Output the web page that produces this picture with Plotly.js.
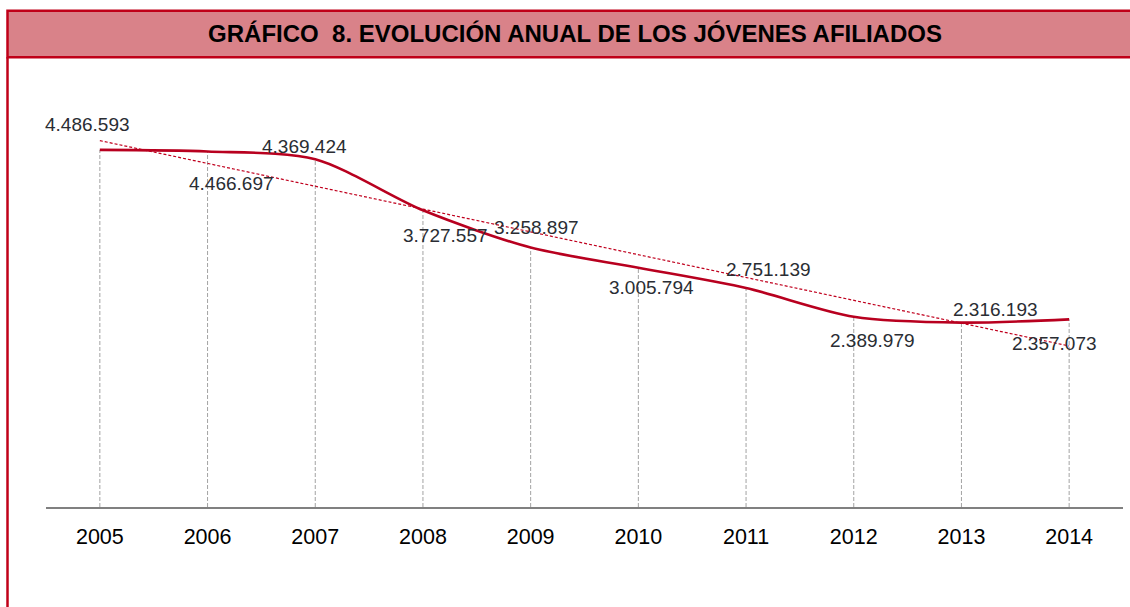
<!DOCTYPE html>
<html>
<head>
<meta charset="utf-8">
<script src="https://cdn.plot.ly/plotly-3.0.1.min.js"></script>
<style>html,body{margin:0;padding:0;background:#fff;}#chart{width:1130px;height:607px;}</style>
</head>
<body>
<div id="chart"></div>
<script>
// ---- Data ----
const years = ['2005','2006','2007','2008','2009','2010','2011','2012','2013','2014'];
const afiliados = [4486593, 4466697, 4369424, 3727557, 3258897, 3005794, 2751139, 2389979, 2316193, 2357073];
const valueLabels = ['4.486.593','4.466.697','4.369.424','3.727.557','3.258.897','3.005.794','2.751.139','2.389.979','2.316.193','2.357.073'];

// label offsets (pixels) relative to each point
const labelShiftX = [-12, 24, -11, 23, 6, 13, 22, 19, 34, -15];
const labelShiftY = [25, -32, 13, -25, 20, -20, 19, -24, 13, -24];

// ---- Linear trend line (least squares on the data) ----
const n = afiliados.length;
const idx = afiliados.map((_, i) => i);
const mx = idx.reduce((a, b) => a + b, 0) / n;
const my = afiliados.reduce((a, b) => a + b, 0) / n;
let sxy = 0, sxx = 0;
for (let i = 0; i < n; i++) { sxy += (idx[i] - mx) * (afiliados[i] - my); sxx += (idx[i] - mx) ** 2; }
const slope = sxy / sxx;
const intercept = my - slope * mx;
const trend = idx.map(i => intercept + slope * i);

// ---- Drop lines ----
const dropX = [], dropY = [];
years.forEach((y, i) => { dropX.push(y, y, null); dropY.push(0, afiliados[i], null); });

const RED = '#c0001e';
const FONT = 'Liberation Sans, Arial, sans-serif';

const traces = [
  { x: dropX, y: dropY, mode: 'lines', type: 'scatter',
    line: { color: '#a3a3a3', width: 1, dash: '4px,2px' }, hoverinfo: 'skip', showlegend: false },
  { x: years, y: trend, mode: 'lines', type: 'scatter',
    line: { color: RED, width: 1.2, dash: '3px,2px' }, hoverinfo: 'skip', showlegend: false },
  { x: years, y: afiliados, mode: 'lines', type: 'scatter',
    line: { color: '#b8001f', width: 2.6, shape: 'spline', smoothing: 0.8 }, hoverinfo: 'skip', showlegend: false }
];

const annotations = years.map((y, i) => ({
  x: i, y: afiliados[i], xref: 'x', yref: 'y', text: valueLabels[i], showarrow: false,
  xanchor: 'center', yanchor: 'middle', xshift: labelShiftX[i], yshift: labelShiftY[i],
  font: { family: FONT, size: 19, color: '#2a2d33' }
}));

// plot area: x 46..1123, y 109..507
const PL = 46, PR = 1123, PT = 109, PB = 507;
const px = v => (v - PL) / (PR - PL);
const py = v => (PB - v) / (PB - PT);

const layout = {
  width: 1130, height: 607,
  margin: { l: PL, r: 1130 - PR, t: PT, b: 607 - PB, pad: 0 },
  paper_bgcolor: '#ffffff', plot_bgcolor: '#ffffff',
  font: { family: FONT, color: '#000' },
  showlegend: false,
  hovermode: false,
  title: {
    text: '<b>GRÁFICO\u00a0\u00a08. EVOLUCIÓN ANUAL DE LOS JÓVENES AFILIADOS</b>',
    font: { family: FONT, size: 24, color: '#000' },
    xref: 'paper', x: px(575), xanchor: 'center',
    yref: 'container', y: 1 - 34 / 607, yanchor: 'middle'
  },
  xaxis: {
    type: 'category', range: [-0.5, 9.5], showgrid: false, zeroline: false,
    showline: true, linecolor: '#808080', linewidth: 1.5,
    ticks: '', tickfont: { family: FONT, size: 21.5, color: '#000' }, ticklabelstandoff: 10,
    fixedrange: true
  },
  yaxis: {
    range: [0, 5000000], showgrid: false, zeroline: false, showline: false,
    showticklabels: false, ticks: '', fixedrange: true
  },
  shapes: [
    { type: 'rect', xref: 'paper', yref: 'paper', x0: px(7.5), x1: px(1140), y0: py(57.3), y1: py(10.7),
      fillcolor: '#d98289', line: { color: '#c00018', width: 2.5 }, layer: 'below' },
    { type: 'line', xref: 'paper', yref: 'paper', x0: px(7.5), x1: px(7.5), y0: py(57.3), y1: py(620),
      line: { color: '#c00018', width: 2.5 } }
  ],
  annotations: annotations
};

Plotly.newPlot('chart', traces, layout, { staticPlot: true, displayModeBar: false });
</script>
</body>
</html>
